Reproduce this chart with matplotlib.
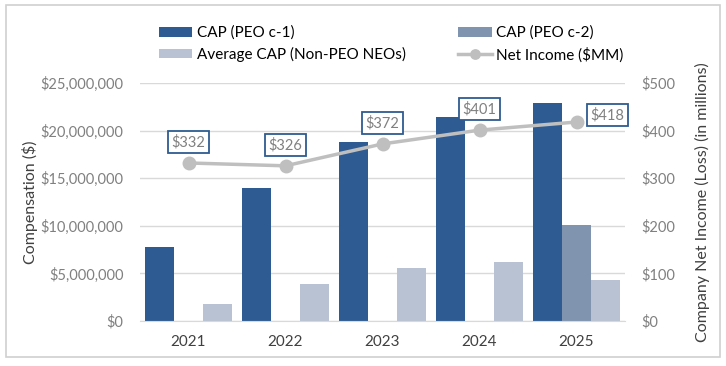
import matplotlib.pyplot as plt
import numpy as np
from matplotlib.patches import Rectangle
from matplotlib.ticker import FuncFormatter

plt.rcParams['font.family'] = ['Lato', 'DejaVu Sans']

years = ['2021', '2022', '2023', '2024', '2025']
cap_c1 = [7.8e6, 14.0e6, 18.8e6, 21.4e6, 22.9e6]
cap_c2 = [0, 0, 0, 0, 10.1e6]
cap_avg = [1.8e6, 3.85e6, 5.55e6, 6.15e6, 4.3e6]
net_income = [332, 326, 372, 401, 418]

c1_color = '#2E5C92'
c2_color = '#8094B0'
avg_color = '#B8C2D2'
line_color = '#BFBFBF'
tick_color = '#808080'
label_color = '#404040'

fig = plt.figure(figsize=(7.26, 3.66), dpi=100)
ax = fig.add_axes([140/726, 1-321/366, 485/726, 238/366])
ax2 = ax.twinx()

x = np.arange(len(years))
w = 0.3
ax.bar(x - w, cap_c1, w, color=c1_color, label='CAP (PEO c-1)', zorder=2)
ax.bar(x, cap_c2, w, color=c2_color, label='CAP (PEO c-2)', zorder=2)
ax.bar(x + w, cap_avg, w, color=avg_color, label='Average CAP (Non-PEO NEOs)', zorder=2)

ax.set_xlim(-0.5, len(years) - 0.5)
ax.set_ylim(0, 25e6)
ax.set_yticks(np.arange(0, 25e6 + 1, 5e6))
ax.yaxis.set_major_formatter(FuncFormatter(lambda v, p: '${:,.0f}'.format(v)))
ax.grid(axis='y', color='#D9D9D9', linewidth=1, zorder=0)
ax.set_axisbelow(True)
ax.set_xticks(x)
ax.set_xticklabels(years, fontsize=11, color=label_color)
ax.tick_params(axis='y', colors=tick_color, labelsize=10.5, length=0, pad=12)
ax.tick_params(axis='x', length=0, pad=10)
for s in ['top', 'left', 'right']:
    ax.spines[s].set_visible(False)
ax.spines['bottom'].set_color('#D9D9D9')
ax.set_ylabel('Compensation ($)', fontsize=11.5, color=label_color, labelpad=2)

ax2.plot(x, net_income, color=line_color, linewidth=2.5, marker='o', markersize=9,
         label='Net Income ($MM)')
ax2.set_ylim(0, 500)
ax2.set_yticks(np.arange(0, 501, 100))
ax2.yaxis.set_major_formatter(FuncFormatter(lambda v, p: '${:,.0f}'.format(v)))
ax2.tick_params(axis='y', colors=tick_color, labelsize=10.5, length=0, pad=12)
for s in ['top', 'left', 'right', 'bottom']:
    ax2.spines[s].set_visible(False)
ax2.set_ylabel('Company Net Income (Loss) (in millions)', fontsize=11.5,
               color=label_color, labelpad=14)

box = dict(boxstyle='square,pad=0.25', fc='white', ec=c1_color, lw=1.3)
for i, v in enumerate(net_income):
    if i == len(net_income) - 1:
        off = (10, 5)
        ha = 'left'
    else:
        off = (0, 15)
        ha = 'center'
    ax2.annotate('${}'.format(v), (x[i], v), xytext=off, textcoords='offset points',
                 ha=ha, va='center', fontsize=10.5, color=tick_color, bbox=box)

h1, l1 = ax.get_legend_handles_labels()
h2, l2 = ax2.get_legend_handles_labels()
handles = [h1[0], h1[2], h1[1], h2[0]]
labels = [l1[0], l1[2], l1[1], l2[0]]
fig.legend(handles, labels, ncol=2, loc='upper left', bbox_to_anchor=(145/726, 1-12/366),
           frameon=False, fontsize=11, columnspacing=3.4, handlelength=2.2,
           handletextpad=0.3, labelspacing=0.45, handleheight=0.6, markerscale=0.75)

fig.patches.append(Rectangle((6/726, 9/366), 714/726, 352/366, transform=fig.transFigure,
                             fill=False, ec='#D0D0D0', lw=1.2))

fig.savefig('out.png', dpi=100)
